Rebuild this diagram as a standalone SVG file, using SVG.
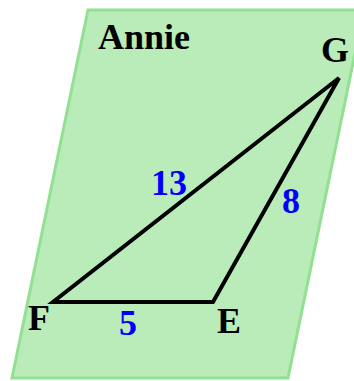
<svg xmlns="http://www.w3.org/2000/svg" width="354" height="381" viewBox="0 0 354 381">
<style>
text{font-family:'Liberation Serif','DejaVu Serif',serif;font-weight:bold;font-size:36px}
.lbl{fill:#000}
.num{fill:#0000ff}
</style>
<g id="plane">
<polygon points="88,10 364,10 288,378 12,378" fill="#b9ecb9" stroke="#92e092" stroke-width="3"/>
<text class="lbl" x="98" y="49" font-family="Liberation Serif, serif">Annie</text>
</g>
<g id="connectors">
<polygon points="339,78 53,302 213,302" fill="none" stroke="#000" stroke-width="4" stroke-linejoin="miter"/>
</g>
<g id="G"><text class="lbl" x="321" y="62" font-family="Liberation Serif, serif">G</text></g>
<g id="F"><text class="lbl" x="28" y="330" font-family="Liberation Serif, serif">F</text></g>
<g id="E"><text class="lbl" x="217" y="333" font-family="Liberation Serif, serif">E</text></g>
<g id="labels">
<text class="num" x="151" y="195" font-family="Liberation Serif, serif">13</text>
<text class="num" x="282" y="213" font-family="Liberation Serif, serif">8</text>
<text class="num" x="119" y="335" font-family="Liberation Serif, serif">5</text>
</g>
</svg>
